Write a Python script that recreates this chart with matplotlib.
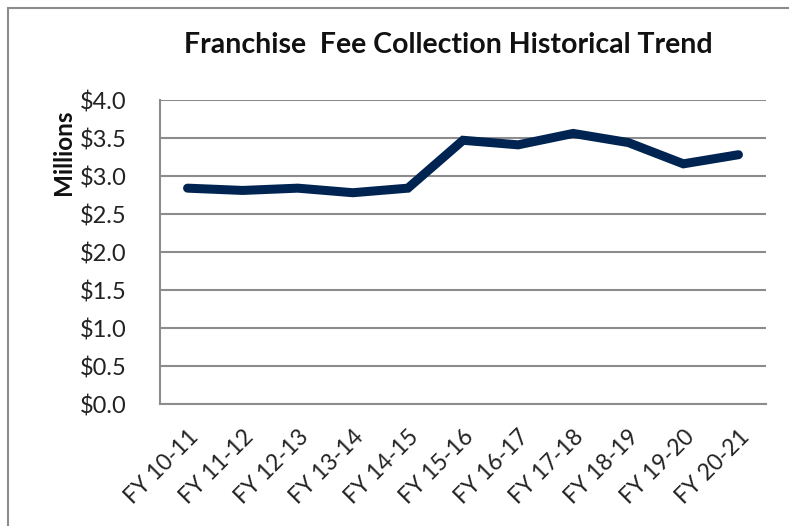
import matplotlib
matplotlib.use("Agg")
import matplotlib.pyplot as plt
from matplotlib.patches import Rectangle
from matplotlib.transforms import ScaledTranslation

categories = ["FY 10-11", "FY 11-12", "FY 12-13", "FY 13-14", "FY 14-15", "FY 15-16",
              "FY 16-17", "FY 17-18", "FY 18-19", "FY 19-20", "FY 20-21"]
values = [2.84, 2.81, 2.84, 2.78, 2.84, 3.47, 3.41, 3.56, 3.44, 3.16, 3.28]
yticks = [0.0, 0.5, 1.0, 1.5, 2.0, 2.5, 3.0, 3.5, 4.0]

plt.rcParams['font.family'] = ['Lato', 'DejaVu Sans']

fig = plt.figure(figsize=(7.89, 5.26), dpi=100)
ax = fig.add_axes([160/789, 1-404/526, (766-160)/789, (404-100)/526])

x = list(range(len(categories)))
ax.plot(x, values, color="#002451", lw=6.5, solid_capstyle="round", solid_joinstyle="miter", zorder=3)

ax.set_xlim(-0.5, len(categories) - 0.5)
ax.set_ylim(0, 4.0)
ax.set_yticks(yticks)
ax.set_yticklabels([f"${v:.1f}" for v in yticks], fontsize=17, color="#222222")
ax.set_xticks(x)
ax.set_xticklabels(categories, rotation=45, ha="right", rotation_mode="anchor",
                   fontsize=16.5, color="#222222")
off = ScaledTranslation(7/100, 0, fig.dpi_scale_trans)
for lab in ax.get_xticklabels():
    lab.set_transform(lab.get_transform() + off)
ax.tick_params(axis="both", length=0)
ax.tick_params(axis="y", pad=24)
ax.tick_params(axis="x", pad=16)

ax.grid(axis="y", color="#8c8c8c", lw=1.5)
ax.set_axisbelow(True)
for s in ["top", "right"]:
    ax.spines[s].set_visible(False)
for s in ["left", "bottom"]:
    ax.spines[s].set_color("#8c8c8c")
    ax.spines[s].set_linewidth(1.5)

fig.text(448/789, 1-45/526, "Franchise  Fee Collection Historical Trend", ha="center", va="center",
         fontsize=20.5, fontweight="bold", color="#111111")
fig.text(64/789, 1-152/526, "Millions", rotation=90, ha="center", va="center",
         fontsize=17.5, fontweight="bold", color="#111111")

fig.patches.append(Rectangle((8/789, -0.1), 1.2, 1 - 8/526 + 0.1, transform=fig.transFigure,
                             fill=False, edgecolor="#8c8c8c", lw=1.5))

fig.savefig("out.png", dpi=100)
